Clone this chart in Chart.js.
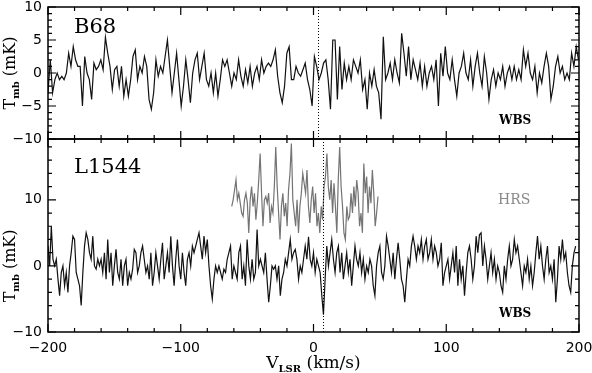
<!DOCTYPE html>
<html>
<head>
<meta charset="utf-8">
<script src="https://cdn.jsdelivr.net/npm/chart.js@4.4.1/dist/chart.umd.min.js"></script>
<style>
  body { margin: 0; background: #fff; }
  #wrap { position: relative; width: 592px; height: 373px; }
  canvas { position: absolute; left: 0; top: 0; }
</style>
</head>
<body>
<div id="wrap">
  <canvas id="topPanel" width="592" height="373"></canvas>
  <canvas id="bottomPanel" width="592" height="373"></canvas>
</div>
<script>
// velocity axis (km/s)
const velMin = -200;
const velMax = 200;
const velTickLabels = [-200, -100, 0, 100, 200];

// B68 WBS spectrum, Tmb in mK
const b68Start = -200;
const b68Step = 1.73;
const b68Wbs = [
  -3, 2, -3, -1, 0, -1, -0.5, -1, 0, 3, 1, 4, 2,
  1, 1, -5, 2.5, 0, -1, -4, 1.5, 0.5, 1, 2, 0.5, 5.4, 3,
  1, -2.5, 0.5, 1, -2, 1, -3.5, -1, -3.5, -1, 2.5, 3.5, -1, 1,
  0, 2.5, 1, -4, -5.5, -3, 2, -0.5, 1, 0, 2.5, 5, 1,
  -3, 0, 3, -1, -5, -2, 2, -1, -4.5, 0, 2, 3, -1, 1,
  3, -1, -2, 0, -3, 0, -3.5, -1, 2, 1, 2, 0, -2, 0,
  -1, 2, -0.5, -2, 0.5, -1.5, 1, -2, 0, 1, -1, 2, 0,
  1, 1.5, 1, 2, 3.5, -0.5, -3, -4.5, -2, 3, 4, -1, -1,
  1, 0, -0.5,
  0.5, 1.5, -1, -2.5, -5, 2.5, 1, -1,
  0, 1.5, 2, -1, -5.5, 5, 5, -4, 4,
  -2.5, 1.5, -1, 1, -1, 2, 1, 0, 2,
  -2.5, -1, -5.5, 0, -2, 0.5, -2, -3, -7, 5.5,
  -1, 0, 1.5, -1, 2, 0, -1.5, 6, 3,
  -0.5, 4, -1, 2, 0.5, -1, 1.5, -2, 1,
  -2, 0, 1, -1, 2, -5, 3, -0.5, 4,
  0, -1, 2, -1, -3.5, 0, 1, 3, 0, -1,
  2, -2, 1, 3, 0, -2, 2.5, 0, -4,
  -1, 0.5, -2, 0, -1, 1, -2, 0, 1, -1,
  1, -1, 0.5, -1, 3.5, 1, 3, 0, -1, 1,
  -3, 0, -1.5, 1, 3, 1, -4, -2, 1, 2.5,
  0, 1, -1, 0, -1, 3, 1, 4, 2
];

// L1544 WBS spectrum, Tmb in mK
const l1544Start = -200;
const l1544Step = 1.25;
const l1544Wbs = [
  3, 0, 6, 1, 0, 1, -2, -4.5, -1, 0, -3, -1, -4, 0, 2, 4.5, 4, -1, -2, -3,
  -6, -1, 3, 5, 4, 2, 1, 4.5, 0, -0.5, 1, 0, 1, -1, 2, -2, 4, -1, 2, -3,
  0, 2.5, -1, -2, 1, -3, 0, 1, -3, -1, -2, -0.5, 2.5, 2, -1, 0, 2, 3, 1, -1,
  0, -2, 2, -3, -1, 2, 0, -2, 1, 3.5, -2, 0, 2, -1, 4.5, 0, -3, 1, 4, 0,
  -2, 2, -1, -3, 1, 2, 0, 3, 2, 3, 4, 5, 3, 1, 4.5, 2, 4, 0, -3, -5,
  -2, 0, -1, 0, -1, -2, -0.5, -1, 1, 2, 3, -2, 0, -1, -2, 2, 3, -2, 0, -3,
  4, 0, -2, 1, -2, -1, 5.5, 0, 1, 0, -1, 2, -2, -5.5, -3, 0, -0.5, 0, -2, 0,
  -4.5, -2, -1, 1, 0, 2, 4, 1, 2, 2.5, 1, -2,
  0, -1, 1, 3, 1, 4.4, 1, 0, 2, -1, 1, 0, -1, -4.5, -7.4, -2, 3, 0, 2, 4,
  1, -1, 2, 3, -1, 2, -2, 0, 2, -1, 1, -3, 0, 3, 1, 0, 2, -1, 1, -2,
  0, -1, 1, 0, -3, -4.5, 0, 2, 3, -1, -2, 0, 4.5, 3, 1, -1, 2, -2, 1, 3.5,
  1, -2, -3, -5.5, -2, 1, 0, 3, 4.5, 3, 1, 3, 2, 4, 1, 3, 4, 1, 2, 4,
  1, 3, 2, 0, 1, 3.5, -3, -1, 0, 1, -2, 0, 2, -1, 3, -3, 1, -2, 0, -4.5,
  -1, 2, 3, 1, -2, 0, 4.5, 2, 4.7, 5, 0, 3, 1, -2, 0, 2, -1, 1, -2, 0,
  -1, -3, -4, 0, -2, 1, 3, 0, 1, 4, 2, 3, 1, -1, -3, 0, -1, 1, -2, 0,
  -3, -1, 2, 4.5, 1, 3, 0, -2, 1, 3, -1, 0, -2, 1, -5.5, -2, 3, 1, 4, 1,
  2, -1, -3, -4, 0, 2, 3
];

// L1544 HRS spectrum, as plotted (shifted up by 10 mK)
const hrsStart = -61.6;
const hrsStep = 1.07;
const l1544Hrs = [
  9, 10, 11.5, 13, 10, 11, 9.5, 8, 7.5, 10,
  11, 9.5, 5, 10, 12, 9, 11, 7, 9.5, 13,
  17, 11, 6, 10, 10.5, 9.5, 11, 6.5, 9, 8,
  12, 18, 12, 8, 4, 9, 11, 7.5, 9.5, 6,
  11.5, 14, 18.5, 10, 8, 6, 10, 5, 9, 11,
  14, 12.5, 11, 14.5, 9, 6.5, 10, 12, 8, 11,
  6, 8, 5, 9, 7, 12, 13.5, 17, 12, 10,
  13, 8, 12.5, 9, 5, 13, 18, 12, 9, 5,
  4, 9, 7, 7.5, 11, 8, 12, 9, 13, 11,
  6, 8, 5, 15.5, 11, 13.5, 8, 12, 9.5, 14.5,
  11, 6, 8, 10.5
];

// source velocities (dotted lines)
const b68Vlsr = 3.3;
const l1544Vlsr = 7.2;

function toPoints(vals, start, step) {
  return vals.map((t, i) => ({ x: start + i * step, y: t }));
}

function fmt(v) {
  return v < 0 ? '\u2212' + Math.abs(v) : String(v);
}

// draws text made of pieces with their own size / offset
function drawPieces(ctx, pieces, cx, base) {
  let total = 0;
  pieces.forEach(p => { ctx.font = p.font; p.w = ctx.measureText(p.t).width; total += p.w; });
  let x = cx - total / 2;
  pieces.forEach(p => {
    ctx.font = p.font;
    ctx.fillText(p.t, x, base + (p.dy || 0));
    x += p.w;
  });
}

const panelPlugin = {
  id: 'panel',
  afterDatasetsDraw(chart, args, o) {
    const { ctx, chartArea: a } = chart;
    const x = chart.scales.x, y = chart.scales.y;
    ctx.save();

    // source velocity
    ctx.strokeStyle = '#000';
    ctx.lineWidth = 1;
    ctx.setLineDash([1, 2]);
    const px = Math.round(x.getPixelForValue(o.vsrc)) + 0.5;
    ctx.beginPath();
    ctx.moveTo(px, a.top);
    ctx.lineTo(px, a.bottom);
    ctx.stroke();
    ctx.setLineDash([]);

    // inward ticks
    ctx.lineWidth = 1.2;
    ctx.beginPath();
    for (let v = velMin; v <= velMax; v += 20) {
      const p = x.getPixelForValue(v);
      const L = v % 100 === 0 ? 8 : 4;
      ctx.moveTo(p, a.top); ctx.lineTo(p, a.top + L);
      ctx.moveTo(p, a.bottom); ctx.lineTo(p, a.bottom - L);
    }
    for (let v = y.min; v <= y.max + 1e-6; v += o.yMinor) {
      const p = y.getPixelForValue(v);
      const L = Math.abs(v % o.yMajor) < 1e-6 ? 8 : 4;
      ctx.moveTo(a.left, p); ctx.lineTo(a.left + L, p);
      ctx.moveTo(a.right, p); ctx.lineTo(a.right - L, p);
    }
    ctx.stroke();

    // frame
    ctx.lineWidth = 1.5;
    ctx.strokeRect(a.left, a.top, a.width, a.height);

    // y title
    ctx.fillStyle = '#000';
    ctx.save();
    ctx.translate(15, y.getPixelForValue(0));
    ctx.rotate(-Math.PI / 2);
    drawPieces(ctx, [
      { t: 'T', font: '16px "DejaVu Serif"' },
      { t: 'mb', font: 'bold 10px "DejaVu Serif"', dy: 4 },
      { t: ' (mK)', font: '16px "DejaVu Serif"' }
    ], 0, 0);
    ctx.restore();

    // panel texts
    o.texts.forEach(tx => {
      ctx.font = tx.font;
      ctx.fillStyle = tx.color || '#000';
      ctx.fillText(tx.text, a.left + tx.dx, tx.fromBottom ? a.bottom - tx.dy : a.top + tx.dy);
    });

    // x title
    if (o.xTitle) {
      ctx.fillStyle = '#000';
      drawPieces(ctx, [
        { t: 'V', font: '17px "DejaVu Serif"' },
        { t: 'LSR', font: 'bold 10px "DejaVu Serif"', dy: 4 },
        { t: ' (km/s)', font: '17px "DejaVu Serif"' }
      ], (a.left + a.right) / 2, 368);
    }
    ctx.restore();
  }
};

function yScale(min, max, step, labels) {
  return {
    type: 'linear', min: min, max: max,
    grid: { display: false, drawTicks: false },
    border: { display: false },
    ticks: {
      stepSize: step, autoSkip: false, padding: 6, color: '#000',
      font: { family: 'DejaVu Sans', size: 14 },
      callback: v => labels.includes(v) ? fmt(v) : ''
    },
    afterFit: s => { s.width = 48; s.paddingTop = 0; s.paddingBottom = 0; }
  };
}

function baseOptions(padding, yOpts, xShown, panel) {
  return {
    responsive: false,
    animation: false,
    layout: { padding: padding },
    plugins: { legend: { display: false }, tooltip: { enabled: false }, panel: panel },
    scales: {
      x: {
        type: 'linear', min: velMin, max: velMax, display: xShown,
        grid: { display: false, drawTicks: false },
        border: { display: false },
        ticks: {
          stepSize: 100, padding: 8, maxRotation: 0, color: '#000',
          font: { family: 'DejaVu Sans', size: 14 },
          callback: v => velTickLabels.includes(v) ? fmt(v) : ''
        },
        afterFit: s => { s.height = xShown ? 41 : 0; s.paddingLeft = 0; s.paddingRight = 0; }
      },
      y: yOpts
    }
  };
}

function lineSet(points, color) {
  return {
    data: points, borderColor: color, borderWidth: 1.2,
    pointRadius: 0, tension: 0, fill: false
  };
}

new Chart(document.getElementById('topPanel'), {
  type: 'line',
  data: { datasets: [lineSet(toPoints(b68Wbs, b68Start, b68Step), '#111')] },
  options: baseOptions(
    { left: 0, top: 7, right: 13, bottom: 234 },
    yScale(-10, 10, 1, [-10, -5, 0, 5, 10]),
    false,
    {
      vsrc: b68Vlsr, yMinor: 1, yMajor: 5, xTitle: false,
      texts: [
        { text: 'B68', font: '21px "DejaVu Serif"', dx: 26, dy: 26 },
        { text: 'WBS', font: 'bold 12px "DejaVu Serif"', dx: 451, dy: 15, fromBottom: true }
      ]
    }
  ),
  plugins: [panelPlugin]
});

new Chart(document.getElementById('bottomPanel'), {
  type: 'line',
  data: {
    datasets: [
      lineSet(toPoints(l1544Hrs, hrsStart, hrsStep), '#747474'),
      lineSet(toPoints(l1544Wbs, l1544Start, l1544Step), '#111')
    ]
  },
  options: baseOptions(
    { left: 0, top: 139, right: 13, bottom: 0 },
    yScale(-10, 19.2, 2, [-10, 0, 10]),
    true,
    {
      vsrc: l1544Vlsr, yMinor: 2, yMajor: 10, xTitle: true,
      texts: [
        { text: 'L1544', font: '21px "DejaVu Serif"', dx: 26, dy: 34 },
        { text: 'HRS', font: '14px "DejaVu Serif"', color: '#888', dx: 450, dy: 65 },
        { text: 'WBS', font: 'bold 12px "DejaVu Serif"', dx: 451, dy: 15, fromBottom: true }
      ]
    }
  ),
  plugins: [panelPlugin]
});
</script>
</body>
</html>
